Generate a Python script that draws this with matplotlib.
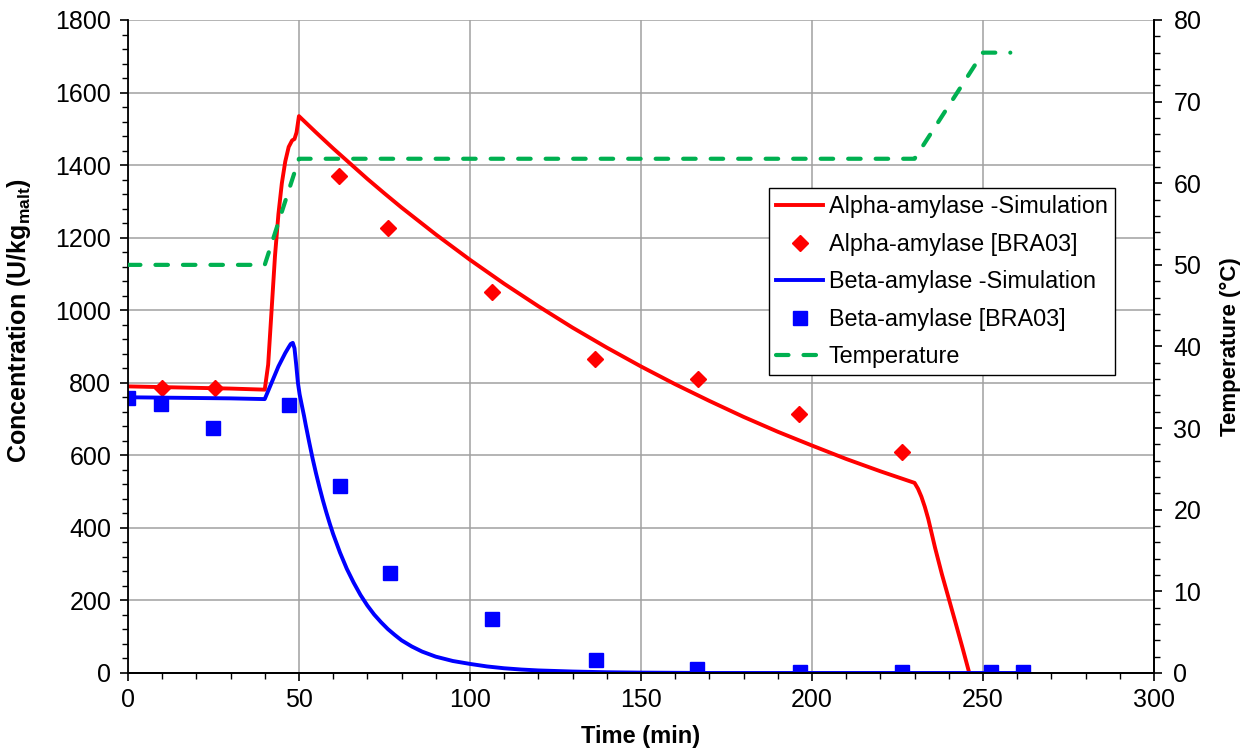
import matplotlib
matplotlib.use('Agg')
import matplotlib.pyplot as plt
from matplotlib.ticker import MultipleLocator

plt.rcParams['font.family'] = ['Liberation Sans', 'DejaVu Sans']
plt.rcParams['mathtext.fontset'] = 'custom'
plt.rcParams['mathtext.rm'] = 'Liberation Sans'
plt.rcParams['mathtext.bf'] = 'Liberation Sans:bold'

# Alpha-amylase simulation (U/kg malt)
alpha_sim_t = [0, 10, 20, 30, 40, 41, 42, 43, 44, 45, 46, 47, 48, 48.7, 49.3, 50,
               55, 60, 65, 70, 75, 80, 90, 100, 110, 120, 130, 140, 150, 160, 170, 180, 190,
               200, 210, 220, 230, 231, 232, 233, 234, 236, 238, 240, 242, 244, 246]
alpha_sim = [790, 788, 786, 784, 781, 850, 1000, 1150, 1265, 1350, 1410, 1450, 1468, 1472, 1490, 1535,
             1490, 1446, 1404, 1362, 1322, 1283, 1209, 1139, 1073, 1011, 952, 897, 845, 796, 750, 706, 665,
             627, 590, 556, 524, 508, 486, 458, 425, 345, 272, 205, 138, 70, 0]

# Alpha-amylase measurements [BRA03]
alpha_exp_t = [10, 25.5, 61.7, 76, 106.4, 136.5, 166.7, 196.2, 226.3]
alpha_exp = [785, 785, 1370, 1227, 1050, 866, 810, 714, 609]

# Beta-amylase simulation
beta_sim_t = [0, 10, 20, 30, 40, 42, 44, 46, 47, 47.6, 48.2, 48.7, 49.2, 49.7, 50.2, 50.8,
              51.5, 52, 53, 54, 55, 56, 57, 58, 59, 60, 62, 64, 66, 68, 70, 72, 74, 76, 78,
              80, 83, 86, 90, 95, 100, 105, 110, 115, 120, 130, 140, 150, 170, 220, 262]
beta_sim = [760, 759, 758, 757, 755, 800, 845, 882, 898, 907, 910, 895, 850, 800, 768, 740,
            708, 683, 636, 591, 550, 512, 476, 443, 412, 383, 332, 287, 249, 215, 186, 161, 140, 121, 105,
            90, 73, 59, 45, 33, 25, 18, 13, 9.5, 7, 4, 2, 1, 0, 0, 0]

# Beta-amylase measurements [BRA03]
beta_exp_t = [0, 9.6, 24.9, 47, 62, 76.6, 106.4, 136.8, 166.4, 196.5, 226.3, 252.3, 261.7]
beta_exp = [758, 741, 675, 739, 515, 276, 149, 36, 11, 3, 3, 3, 2]

# Mash temperature profile (deg C)
temp_t = [0, 40, 50, 230, 250, 258]
temp = [50, 50, 63, 63, 76, 76]

fig = plt.figure(figsize=(12.58, 7.49), dpi=100)
ax = fig.add_subplot(111)
fig.subplots_adjust(left=0.1017, right=0.9173, bottom=0.1015, top=0.9733)
ax2 = ax.twinx()

l1, = ax.plot(alpha_sim_t, alpha_sim, color='#FF0000', lw=2.8, label='Alpha-amylase -Simulation')
m1, = ax.plot(alpha_exp_t, alpha_exp, ls='none', marker='D', ms=8.5, color='#FF0000',
              label='Alpha-amylase [BRA03]')
l2, = ax.plot(beta_sim_t, beta_sim, color='#0000FF', lw=2.8, label='Beta-amylase -Simulation')
m2, = ax.plot(beta_exp_t, beta_exp, ls='none', marker='s', ms=10, color='#0000FF',
              label='Beta-amylase [BRA03]')
l3, = ax2.plot(temp_t, temp, color='#00B050', lw=3.0, dashes=(3.0, 3.6),
               dash_capstyle='round', label='Temperature')

ax.set_xlim(0, 300)
ax.set_ylim(0, 1800)
ax2.set_ylim(0, 80)

ax.xaxis.set_major_locator(MultipleLocator(50))
ax.xaxis.set_minor_locator(MultipleLocator(10))
ax.yaxis.set_major_locator(MultipleLocator(200))
ax.yaxis.set_minor_locator(MultipleLocator(40))
ax2.yaxis.set_major_locator(MultipleLocator(10))
ax2.yaxis.set_minor_locator(MultipleLocator(2))

ax.grid(True, which='major', color='#A0A0A0', lw=1.1)
ax.set_axisbelow(True)

for a in (ax, ax2):
    a.spines['top'].set_visible(False)
    for s in a.spines.values():
        s.set_linewidth(1.3)
ax2.spines['left'].set_visible(False)

ax.tick_params(axis='both', which='major', direction='out', length=6, width=1.2,
               labelsize=18, pad=6)
ax.tick_params(axis='both', which='minor', direction='out', length=4, width=1.0)
ax.tick_params(axis='x', which='major', pad=5)
ax2.tick_params(axis='y', which='major', direction='out', length=6, width=1.2,
                labelsize=18, pad=8)
ax2.tick_params(axis='y', which='minor', direction='out', length=4, width=1.0)

ax.set_xlabel('Time (min)', fontsize=17, fontweight='bold', labelpad=9)
ax.set_ylabel('Concentration (U/kg$_{\\mathbf{malt}}$)', fontsize=18, fontweight='bold')
ax.yaxis.set_label_coords(-0.093, 0.54)
ax2.set_ylabel('Temperature (°C)', fontsize=16, fontweight='bold', labelpad=13)

leg = ax2.legend(handles=[l1, m1, l2, m2, l3], loc='upper left', bbox_to_anchor=(0.625, 0.742),
                 fontsize=16.8, frameon=True, fancybox=False, framealpha=1, edgecolor='black',
                 handlelength=2.0, handletextpad=0.25, labelspacing=0.62, borderpad=0.3,
                 borderaxespad=0)
leg.get_frame().set_linewidth(1.0)

plt.savefig('out.png', dpi=100, facecolor='white')
plt.close()
